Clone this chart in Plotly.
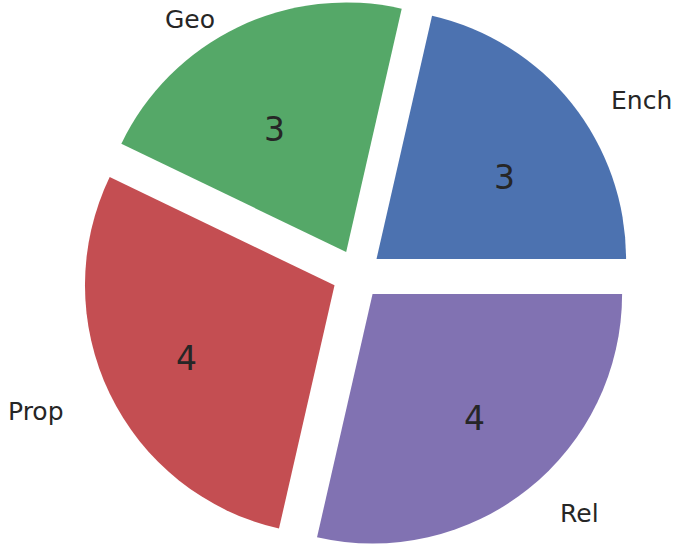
import math
import plotly.graph_objects as go

labels = ["Ench", "Geo", "Prop", "Rel"]
values = [3, 3, 4, 4]
colors = ["#4C72B0", "#55A868", "#C44E52", "#8172B2"]
pull = [0.1, 0.1, 0.1, 0.1]

W, H = 679, 549
# pie box (pixels)
cx, cy = 357, 274.5
box = 549
total = sum(values)
first_angle = 360.0 * values[0] / total

fig = go.Figure()
fig.add_trace(go.Pie(
    labels=labels, values=values, sort=False, direction="counterclockwise",
    rotation=90 - first_angle, pull=pull, textinfo="none", hoverinfo="label+value",
    marker=dict(colors=colors, line=dict(width=0)),
    domain=dict(x=[(cx - box / 2) / W, (cx + box / 2) / W], y=[0, 1]),
    showlegend=False,
))

# text geometry (matches the original's slightly elliptical layout)
tcx, tcy, rx, ry = 357, 284, 270, 245
ann = []
start = 0.0
for lab, v, p in zip(labels, values, pull):
    frac = v / total
    mid = (start + frac / 2) * 2 * math.pi
    start += frac
    c, s = math.cos(mid), math.sin(mid)
    vx = tcx + (p + 0.6) * rx * c
    vy = tcy - (p + 0.6) * ry * s
    ann.append(dict(x=vx / W, y=1 - vy / H, xref="paper", yref="paper",
                    text=str(v), showarrow=False, xanchor="center", yanchor="middle",
                    font=dict(size=33, color="#262626")))
    lx = tcx + (p + 1.1) * rx * c
    ly = tcy - (p + 1.1) * ry * s
    ann.append(dict(x=lx / W, y=1 - ly / H, xref="paper", yref="paper",
                    text=lab, showarrow=False, borderpad=0,
                    xanchor="left" if c > 0 else "right", yanchor="middle",
                    font=dict(size=25, color="#262626")))

fig.update_layout(
    width=W, height=H, margin=dict(l=0, r=0, t=0, b=0),
    paper_bgcolor="white", plot_bgcolor="white",
    font=dict(family="DejaVu Sans", color="#262626"),
    annotations=ann,
)
fig.write_html("out.html", config={"displayModeBar": False},
               post_script="document.body.style.margin='0';document.body.style.overflow='hidden';")
